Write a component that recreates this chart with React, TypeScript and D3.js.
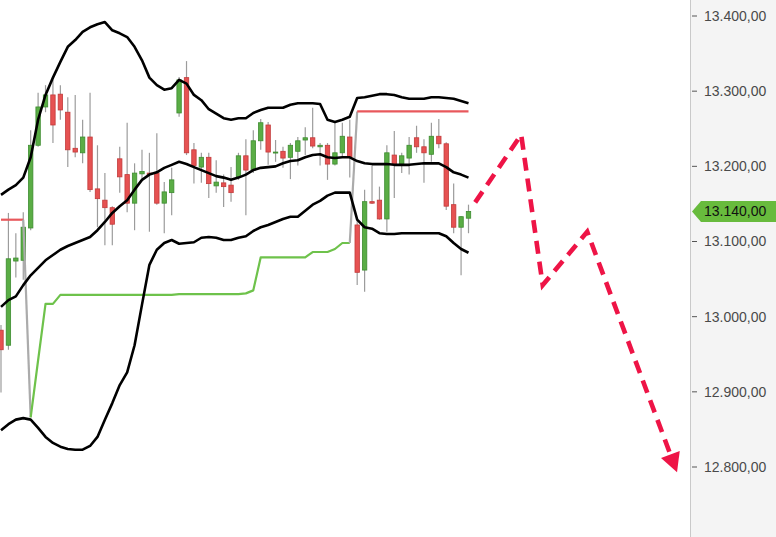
import * as d3 from "d3";

const WIDTH = 776;
const HEIGHT = 537;
const AXIS_LEFT = 690;

// daily candles
const opens = [12982, 12962, 13074, 13075, 13118, 13228, 13279, 13295, 13296, 13272, 13224, 13218, 13239, 13170, 13155, 13145, 13210, 13189, 13151, 13190, 13191, 13191, 13151, 13165, 13271, 13318, 13222, 13199, 13212, 13174, 13178, 13175, 13186, 13214, 13195, 13234, 13255, 13218, 13220, 13212, 13220, 13235, 13238, 13226, 13228, 13203, 13218, 13239, 13122, 13062, 13153, 13155, 13130, 13215, 13203, 13211, 13238, 13226, 13216, 13240, 13230, 13149, 13119, 13131];
const highs = [12989, 13138, 13111, 13139, 13248, 13298, 13308, 13315, 13308, 13292, 13295, 13262, 13298, 13228, 13191, 13147, 13226, 13258, 13204, 13222, 13218, 13244, 13179, 13198, 13319, 13340, 13231, 13218, 13218, 13208, 13189, 13199, 13218, 13236, 13248, 13263, 13259, 13235, 13226, 13231, 13239, 13252, 13278, 13231, 13231, 13259, 13258, 13262, 13129, 13169, 13201, 13173, 13228, 13247, 13218, 13239, 13254, 13236, 13258, 13263, 13232, 13177, 13134, 13149];
const lows = [12899, 12956, 13052, 13049, 13115, 13226, 13272, 13231, 13262, 13199, 13212, 13204, 13166, 13119, 13095, 13095, 13165, 13139, 13115, 13182, 13113, 13149, 13111, 13135, 13266, 13215, 13177, 13178, 13158, 13165, 13146, 13153, 13182, 13135, 13191, 13222, 13202, 13206, 13198, 13183, 13201, 13215, 13224, 13201, 13182, 13201, 13212, 13185, 13042, 13033, 13150, 13129, 13113, 13158, 13191, 13189, 13218, 13178, 13206, 13224, 13142, 13111, 13055, 13111];
const closes = [12956, 13077, 13078, 13119, 13228, 13279, 13295, 13255, 13275, 13222, 13219, 13239, 13169, 13157, 13145, 13123, 13186, 13151, 13191, 13193, 13189, 13151, 13166, 13182, 13315, 13218, 13201, 13212, 13177, 13179, 13173, 13165, 13214, 13195, 13234, 13258, 13219, 13219, 13211, 13228, 13234, 13238, 13227, 13228, 13203, 13218, 13240, 13212, 13059, 13153, 13151, 13130, 13218, 13202, 13214, 13228, 13226, 13218, 13240, 13230, 13147, 13119, 13133, 13140];

// bollinger bands
const upperBand = [13162, 13169, 13175, 13185, 13212, 13262, 13295, 13318, 13339, 13359, 13368, 13379, 13385, 13389, 13392, 13381, 13377, 13372, 13359, 13341, 13318, 13308, 13302, 13304, 13315, 13310, 13295, 13288, 13276, 13270, 13264, 13262, 13264, 13264, 13271, 13275, 13278, 13278, 13278, 13282, 13284, 13284, 13284, 13283, 13262, 13259, 13262, 13266, 13291, 13292, 13294, 13296, 13296, 13295, 13292, 13290, 13290, 13290, 13292, 13292, 13291, 13290, 13287, 13284];
const middleBand = [13013, 13022, 13027, 13042, 13055, 13065, 13075, 13082, 13089, 13094, 13098, 13102, 13106, 13115, 13126, 13138, 13147, 13155, 13169, 13182, 13189, 13192, 13198, 13202, 13206, 13203, 13199, 13195, 13191, 13187, 13185, 13182, 13185, 13189, 13195, 13198, 13199, 13200, 13204, 13207, 13208, 13212, 13215, 13216, 13212, 13211, 13212, 13212, 13207, 13204, 13203, 13203, 13203, 13202, 13202, 13202, 13203, 13204, 13204, 13204, 13199, 13192, 13189, 13185];
const lowerBand = [12849, 12857, 12863, 12865, 12863, 12852, 12840, 12832, 12827, 12824, 12823, 12823, 12828, 12840, 12863, 12885, 12909, 12926, 12962, 13016, 13069, 13089, 13098, 13102, 13097, 13098, 13099, 13105, 13106, 13105, 13102, 13102, 13105, 13107, 13114, 13119, 13122, 13126, 13130, 13133, 13133, 13141, 13149, 13154, 13161, 13165, 13165, 13165, 13129, 13119, 13117, 13111, 13110, 13110, 13111, 13111, 13111, 13111, 13111, 13111, 13107, 13098, 13090, 13085];

// trailing stop and which side of price it sits on
const stopLevels = [13129, 13129, 13129, 13129, 12866, 12942, 13017, 13017, 13029, 13029, 13029, 13029, 13029, 13029, 13029, 13029, 13029, 13029, 13029, 13029, 13029, 13029, 13029, 13029, 13030, 13030, 13030, 13030, 13030, 13030, 13030, 13030, 13030, 13031, 13035, 13079, 13079, 13079, 13079, 13079, 13079, 13079, 13086, 13086, 13086, 13090, 13098, 13098, 13273, 13273, 13273, 13273, 13273, 13273, 13273, 13273, 13273, 13273, 13273, 13273, 13273, 13273, 13273, 13273];
const stopSides = [
  "short", "short", "short", "short",
  ...Array(44).fill("long"),
  ...Array(16).fill("short"),
];

// hand drawn forecast
const forecastIdx = [63.9, 70.1, 73, 79, 91.1];
const forecastPrice = [13152, 13242, 13042, 13113, 12793];

const priceTicks = [12800, 12900, 13000, 13100, 13200, 13300, 13400];
const lastPrice = 13140;

const deFormat = d3.formatLocale({
  decimal: ",",
  thousands: ".",
  grouping: [3],
  currency: ["", "€"],
}).format(",.2f");

const UP_FILL = "#5aad45";
const UP_STROKE = "#3d8c30";
const DOWN_FILL = "#e65252";
const DOWN_STROKE = "#c23a3a";

export default function App() {
  const xScale = d3.scaleLinear().domain([0, 63]).range([1, 468.5]);
  const yScale = d3.scaleLinear().domain([12800, 13400]).range([467, 16]);

  const bandLine = d3
    .line<number>()
    .x((_, i) => xScale(i))
    .y((v) => yScale(v));

  // split stop line into coloured runs, gray where it flips
  const stopSegments: { d: string; color: string }[] = [];
  for (let i = 1; i < stopLevels.length; i++) {
    const same = stopSides[i] === stopSides[i - 1];
    const color = !same ? "#ababab" : stopSides[i] === "short" ? "#e8585c" : "#6ec24b";
    const d = `M${xScale(i - 1)},${yScale(stopLevels[i - 1])}L${xScale(i)},${yScale(stopLevels[i])}`;
    const last = stopSegments[stopSegments.length - 1];
    if (last && last.color === color) last.d += `L${xScale(i)},${yScale(stopLevels[i])}`;
    else stopSegments.push({ d, color });
  }

  // forecast arrow
  const fPts = forecastIdx.map((v, i) => [xScale(v), yScale(forecastPrice[i])]);
  const tip = fPts[fPts.length - 1];
  const prev = fPts[fPts.length - 2];
  const len = Math.hypot(tip[0] - prev[0], tip[1] - prev[1]);
  const ux = (tip[0] - prev[0]) / len;
  const uy = (tip[1] - prev[1]) / len;
  const headLen = 19;
  const headHalf = 10;
  const base = [tip[0] - ux * headLen, tip[1] - uy * headLen];
  const linePts = [...fPts.slice(0, -1), base];
  const arrowPath = d3.line()(linePts as [number, number][]);
  const head = [
    tip,
    [base[0] - uy * headHalf, base[1] + ux * headHalf],
    [base[0] + uy * headHalf, base[1] - ux * headHalf],
  ]
    .map((p) => p.join(","))
    .join(" ");

  const bodyW = 4.4;
  const lastY = yScale(lastPrice);

  return (
    <svg
      width={WIDTH}
      height={HEIGHT}
      style={{ position: "absolute", left: 0, top: 0, background: "#fff" }}
      fontFamily="'Liberation Sans', Arial, sans-serif"
    >
      <defs>
        <clipPath id="plot">
          <rect x={0} y={0} width={AXIS_LEFT} height={HEIGHT} />
        </clipPath>
      </defs>

      <g clipPath="url(#plot)">
        {/* candles */}
        {opens.map((o, i) => {
          const c = closes[i];
          const up = c >= o;
          const x = xScale(i);
          const top = yScale(Math.max(o, c));
          const h = Math.max(1, yScale(Math.min(o, c)) - top);
          return (
            <g key={i}>
              <line
                x1={x}
                x2={x}
                y1={yScale(highs[i])}
                y2={yScale(lows[i])}
                stroke="#9c9c9c"
                strokeWidth={1.2}
              />
              <rect
                x={x - bodyW / 2}
                y={top}
                width={bodyW}
                height={h}
                fill={up ? UP_FILL : DOWN_FILL}
                stroke={up ? UP_STROKE : DOWN_STROKE}
                strokeWidth={0.8}
              />
            </g>
          );
        })}

        {/* trailing stop */}
        {stopSegments.map((s, i) => (
          <path key={i} d={s.d} fill="none" stroke={s.color} strokeWidth={2.2} strokeLinejoin="round" />
        ))}

        {/* bollinger */}
        {[upperBand, middleBand, lowerBand].map((band, i) => (
          <path
            key={i}
            d={bandLine(band) ?? undefined}
            fill="none"
            stroke="#000"
            strokeWidth={2.6}
            strokeLinejoin="round"
          />
        ))}

        {/* forecast */}
        <path
          d={arrowPath ?? undefined}
          fill="none"
          stroke="#ee1446"
          strokeWidth={4.6}
          strokeDasharray="13 8"
        />
        <polygon points={head} fill="#ee1446" />
      </g>

      {/* price axis */}
      <rect x={AXIS_LEFT} y={0} width={WIDTH - AXIS_LEFT} height={HEIGHT} fill="#f4f4f4" />
      <line x1={AXIS_LEFT + 0.5} x2={AXIS_LEFT + 0.5} y1={0} y2={HEIGHT} stroke="#c9c9c9" />
      {priceTicks.map((t) => (
        <g key={t} transform={`translate(0, ${yScale(t)})`}>
          <line x1={AXIS_LEFT + 2} x2={AXIS_LEFT + 7} stroke="#555" strokeWidth={1} />
          <text x={AXIS_LEFT + 14} dy="0.35em" fontSize={14} fill="#4a4a4a">
            {deFormat(t)}
          </text>
        </g>
      ))}

      <polygon
        points={`${AXIS_LEFT + 2},${lastY} ${AXIS_LEFT + 11},${lastY - 10.5} ${WIDTH},${lastY - 10.5} ${WIDTH},${lastY + 10.5} ${AXIS_LEFT + 11},${lastY + 10.5}`}
        fill="#68bb3d"
      />
      <text x={AXIS_LEFT + 14} y={lastY} dy="0.35em" fontSize={14} fill="#111">
        {deFormat(lastPrice)}
      </text>
    </svg>
  );
}
